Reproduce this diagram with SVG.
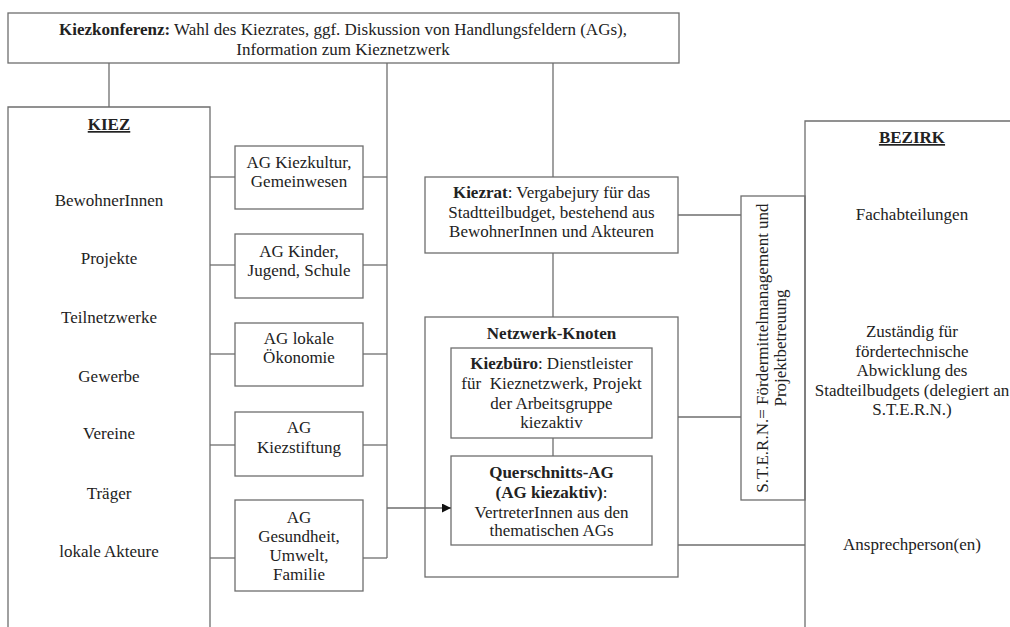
<svg xmlns="http://www.w3.org/2000/svg" width="1010" height="627" viewBox="0 0 1010 627" font-family="'Liberation Serif', 'DejaVu Serif', serif">
<style>
text{font-family:'Liberation Serif','DejaVu Serif',serif;font-size:17px;fill:#222;text-anchor:middle}
.b{font-weight:bold}
.u{font-weight:bold;text-decoration:underline}
.box{fill:#fff;stroke:#6e6e6e;stroke-width:1.3}
.ln{fill:none;stroke:#6e6e6e;stroke-width:1.3}
</style>
<defs>
<marker id="arr" viewBox="0 0 10 10" refX="10" refY="5" markerWidth="11" markerHeight="9" markerUnits="userSpaceOnUse" orient="auto">
<path d="M0,0 L10,5 L0,10 z" fill="#111"/>
</marker>
</defs>
<g id="kiezkonferenz">
<rect class="box" x="8" y="13" width="671" height="50"/>
<text x="343" y="35"><tspan class="b">Kiezkonferenz:</tspan> Wahl des Kiezrates, ggf. Diskussion von Handlungsfeldern (AGs),</text>
<text x="343" y="55">Information zum Kieznetzwerk</text>
</g>
<g id="kiez">
<path class="ln" d="M8,630 L8,107 L210,107 L210,630"/>
<text class="u" x="109" y="130">KIEZ</text>
<text x="109" y="206">BewohnerInnen</text>
<text x="109" y="264">Projekte</text>
<text x="109" y="323">Teilnetzwerke</text>
<text x="109" y="382">Gewerbe</text>
<text x="109" y="439">Vereine</text>
<text x="109" y="499">Träger</text>
<text x="109" y="557">lokale Akteure</text>
</g>
<g id="ag-kiezkultur">
<rect class="box" x="235" y="146" width="128" height="63"/>
<text x="299" y="168">AG Kiezkultur,</text>
<text x="299" y="187">Gemeinwesen</text>
</g>
<g id="ag-kinder">
<rect class="box" x="235" y="234" width="128" height="64"/>
<text x="299" y="257">AG Kinder,</text>
<text x="299" y="276">Jugend, Schule</text>
</g>
<g id="ag-oekonomie">
<rect class="box" x="235" y="323" width="128" height="63"/>
<text x="299" y="344">AG lokale</text>
<text x="299" y="363">Ökonomie</text>
</g>
<g id="ag-kiezstiftung">
<rect class="box" x="235" y="412" width="128" height="64"/>
<text x="299" y="433">AG</text>
<text x="299" y="453">Kiezstiftung</text>
</g>
<g id="ag-gesundheit">
<rect class="box" x="235" y="500" width="128" height="91"/>
<text x="299" y="523">AG</text>
<text x="299" y="542">Gesundheit,</text>
<text x="299" y="561">Umwelt,</text>
<text x="299" y="580">Familie</text>
</g>
<g id="kiezrat">
<rect class="box" x="425" y="177" width="253" height="76"/>
<text x="551.5" y="198"><tspan class="b">Kiezrat</tspan>: Vergabejury für das</text>
<text x="551.5" y="218">Stadtteilbudget, bestehend aus</text>
<text x="551.5" y="237">BewohnerInnen und Akteuren</text>
</g>
<g id="netzwerk-knoten">
<rect class="box" x="425" y="317" width="253" height="260"/>
<text class="b" x="551.5" y="339">Netzwerk-Knoten</text>
</g>
<g id="kiezbuero">
<rect class="box" x="451" y="348" width="201" height="90"/>
<text x="551.5" y="369"><tspan class="b">Kiezbüro</tspan>: Dienstleister</text>
<text x="551.5" y="389" xml:space="preserve">für  Kieznetzwerk, Projekt</text>
<text x="551.5" y="409">der Arbeitsgruppe</text>
<text x="551.5" y="428">kiezaktiv</text>
</g>
<g id="querschnitts-ag">
<rect class="box" x="451" y="456" width="201" height="89"/>
<text class="b" x="551.5" y="478">Querschnitts-AG</text>
<text x="551.5" y="498"><tspan class="b">(AG kiezaktiv)</tspan>:</text>
<text x="551.5" y="518">VertreterInnen aus den</text>
<text x="551.5" y="536">thematischen AGs</text>
</g>
<g id="stern">
<rect class="box" x="741" y="196" width="64" height="304"/>
<text transform="translate(768,348) rotate(-90)" x="0" y="0">S.T.E.R.N.= Fördermittelmanagement und</text>
<text transform="translate(786,348) rotate(-90)" x="0" y="0">Projektbetreuung</text>
</g>
<g id="bezirk">
<path class="ln" d="M805,630 L805,121 L1015,121"/>
<text class="u" x="912" y="143">BEZIRK</text>
<text x="912" y="220">Fachabteilungen</text>
<text x="912" y="337">Zuständig für</text>
<text x="912" y="356.5">fördertechnische</text>
<text x="912" y="376">Abwicklung des</text>
<text x="912" y="395.5">Stadteilbudgets (delegiert an</text>
<text x="912" y="415">S.T.E.R.N.)</text>
<text x="912" y="550">Ansprechperson(en)</text>
</g>
<g id="connectors">
<line class="ln" x1="109" y1="63" x2="109" y2="107"/>
<line class="ln" x1="387" y1="63" x2="387" y2="558"/>
<line class="ln" x1="553" y1="63" x2="553" y2="177"/>
<line class="ln" x1="210" y1="177" x2="235" y2="177"/>
<line class="ln" x1="363" y1="177" x2="387" y2="177"/>
<line class="ln" x1="210" y1="265" x2="235" y2="265"/>
<line class="ln" x1="363" y1="265" x2="387" y2="265"/>
<line class="ln" x1="210" y1="354" x2="235" y2="354"/>
<line class="ln" x1="363" y1="354" x2="387" y2="354"/>
<line class="ln" x1="210" y1="445" x2="235" y2="445"/>
<line class="ln" x1="363" y1="445" x2="387" y2="445"/>
<line class="ln" x1="210" y1="558" x2="235" y2="558"/>
<line class="ln" x1="363" y1="558" x2="387" y2="558"/>
<line class="ln" x1="387" y1="508" x2="451" y2="508" marker-end="url(#arr)"/>
<line class="ln" x1="553" y1="253" x2="553" y2="317"/>
<line class="ln" x1="553" y1="438" x2="553" y2="456"/>
<line class="ln" x1="678" y1="215" x2="741" y2="215"/>
<line class="ln" x1="678" y1="417" x2="741" y2="417"/>
<line class="ln" x1="678" y1="545" x2="805" y2="545"/>
</g>
</svg>
